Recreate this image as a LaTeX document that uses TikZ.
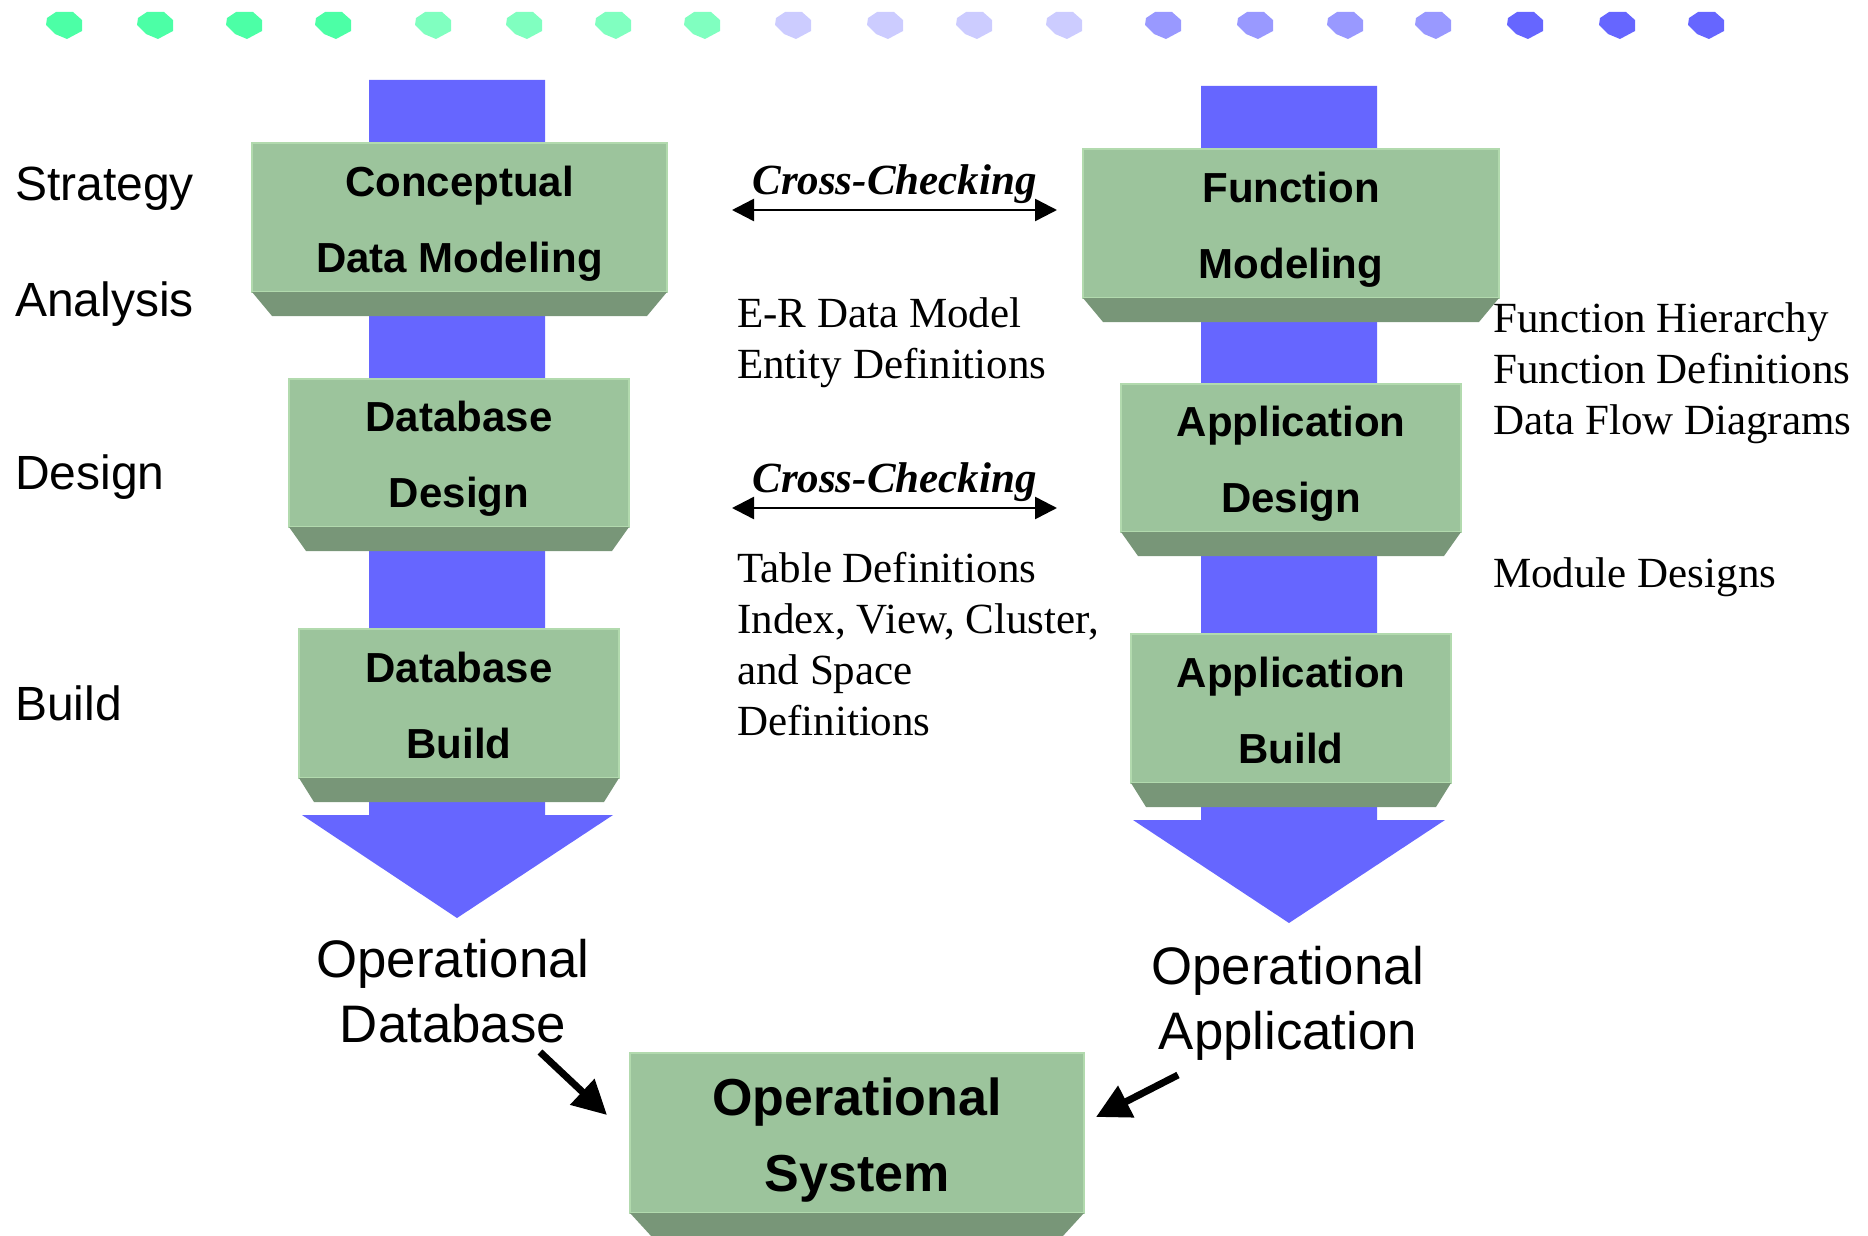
\documentclass[tikz,border=0pt]{standalone}
\usepackage{fontspec}
\setmainfont{Liberation Serif}
\setsansfont{Liberation Sans}
\usetikzlibrary{arrows.meta,calc}
\definecolor{facegreen}{HTML}{9CC49C}
\definecolor{edgegreen}{HTML}{B2DAAE}
\definecolor{bevelgreen}{HTML}{789678}
\definecolor{flowblue}{HTML}{6666FF}
\definecolor{dotA}{HTML}{4CFFA6}
\definecolor{dotB}{HTML}{80FFC0}
\definecolor{dotC}{HTML}{CCCCFF}
\definecolor{dotD}{HTML}{9999FF}
\definecolor{dotE}{HTML}{6666FF}
\newcommand\stagetop{\rule{0pt}{1em}}
\newcommand\stagebot{\rule[-0.21em]{0pt}{0.21em}}
% dark slanted strip under a stage box
\newcommand\bevel[2][18]{\fill[bevelgreen] (#2.south west) -- (#2.south east) -- ++(-#1,24) -- ($(#2.south west)+(#1,24)$) -- cycle;}
\tikzset{
  stage/.style={rectangle,fill=facegreen,draw=edgegreen,line width=2pt,inner sep=0pt,outer sep=0pt,
    align=center,font=\fontsize{42}{76}\selectfont\sffamily\bfseries},
  bigstage/.style={stage,font=\fontsize{52}{76}\selectfont\sffamily\bfseries},
  phase/.style={font=\fontsize{48}{56}\selectfont\sffamily,inner sep=0pt,anchor=base west},
  note/.style={font=\fontsize{43}{51}\selectfont,inner sep=0pt,align=left,anchor=base west},
  result/.style={font=\fontsize{52.8}{65}\selectfont\sffamily,inner sep=0pt,align=center,anchor=base},
  xlbl/.style={font=\fontsize{43}{51}\selectfont\bfseries\itshape,inner sep=0pt},
  xcheck/.style={line width=2.5pt,{Triangle[length=22pt,width=22pt]}-{Triangle[length=22pt,width=22pt]}},
  feed/.style={line width=7pt,-{Triangle[length=34pt,width=34pt]}}
}
\begin{document}
\begin{tikzpicture}[x=1pt,y=-1pt]
\useasboundingbox (0,0) rectangle (1868,1236);
%dots
\foreach \x/\c in {64/dotA,155/dotA,244/dotA,333/dotA,433/dotB,524/dotB,613/dotB,702/dotB,
    793/dotC,885/dotC,974/dotC,1064/dotC,1163/dotD,1255/dotD,1345/dotD,1433/dotD,1525/dotE,1617/dotE,1706/dotE}
  \fill[\c] (\x,25) +(-8,-13) -- +(9,-13) -- +(18,-5) -- +(18,6) -- +(3,14) -- +(-9,9) -- +(-18,0) -- +(-17,-7) -- cycle;
%flow arrows
\fill[flowblue] (369,80) -- (545,80) -- (545,815) -- (613,815) -- (457,918) -- (302,815) -- (369,815) -- cycle;
\fill[flowblue] (1201,86) -- (1377,86) -- (1377,820) -- (1445,820) -- (1289,923) -- (1133,820) -- (1201,820) -- cycle;
%data side
\node[stage,minimum width=415pt,minimum height=149pt] (cdm) at (459.5,217.5) {\stagetop Conceptual\\Data Modeling\stagebot};
\node[stage,minimum width=340pt,minimum height=148pt] (dbd) at (459,453) {\stagetop Database\\Design\stagebot};
\node[stage,minimum width=320pt,minimum height=149pt] (dbb) at (459,703.5) {\stagetop Database\\Build\stagebot};
%function side
\node[stage,minimum width=416pt,minimum height=149pt] (fm) at (1291,223.5) {\stagetop Function\\Modeling\stagebot};
\node[stage,minimum width=340pt,minimum height=148pt] (apd) at (1291,458) {\stagetop Application\\Design\stagebot};
\node[stage,minimum width=320pt,minimum height=149pt] (apb) at (1291,708.5) {\stagetop Application\\Build\stagebot};
%final system
\node[bigstage,minimum width=454pt,minimum height=160pt] (ops) at (857,1133) {\stagetop Operational\\System\stagebot};
\bevel[20]{cdm} \bevel[17]{dbd} \bevel[15]{dbb}
\bevel[20]{fm} \bevel[17]{apd} \bevel[15]{apb}
\bevel[22]{ops}
%phases
\node[phase] (strat) at (15,200) {Strategy};
\node[phase] (analysis) at (15,316) {Analysis};
\node[phase] (design) at (15,489) {Design};
\node[phase] (build) at (15,720) {Build};
%cross-checking
\coordinate (xl1) at (732,210);
\coordinate (xr1) at (1057,210);
\coordinate (xl2) at (732,508);
\coordinate (xr2) at (1057,508);
\draw[xcheck] (xl1) -- node[xlbl,above=5pt]{Cross-Checking} (xr1);
\draw[xcheck] (xl2) -- node[xlbl,above=5pt]{Cross-Checking} (xr2);
%deliverables (base = last line)
\node[note] (ernote) at (737,378) {E-R Data Model\\Entity Definitions};
\node[note] (tblnote) at (737,735) {Table Definitions\\Index, View, Cluster,\\and Space\\Definitions};
\node[note] (fnnote) at (1493,434) {Function Hierarchy\\Function Definitions\\Data Flow Diagrams};
\node[note] (modnote) at (1493,587) {Module Designs};
%results
\node[result] (opdb) at (453,1042) {Operational\\Database};
\node[result] (opapp) at (1288,1049) {Operational\\Application};
\coordinate (dbtail) at (540,1052);
\coordinate (apptail) at (1178,1075);
\draw[feed] (dbtail) -- ([xshift=-23pt,yshift=18pt]ops.west);
\draw[feed] (apptail) -- ([xshift=12pt,yshift=16pt]ops.east);
\end{tikzpicture}
\end{document}
